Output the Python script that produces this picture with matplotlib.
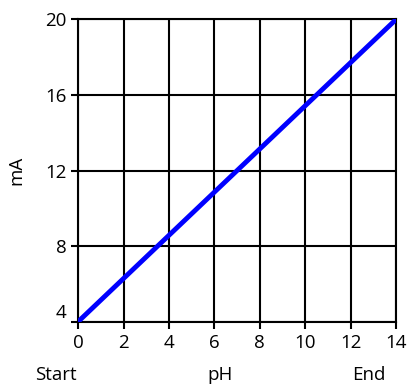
import matplotlib.pyplot as plt
import matplotlib.transforms as mtransforms

plt.rcParams['font.family'] = ['Open Sans', 'DejaVu Sans']

ph = [0, 14]
ma = [4, 20]
x_ticks = [0, 2, 4, 6, 8, 10, 12, 14]
y_ticks = [4, 8, 12, 16, 20]

fig = plt.figure(figsize=(4.11, 3.89), dpi=100)
ax = fig.add_axes([0.19, 0.173, 0.7735, 0.777])

ax.plot(ph, ma, color='#0000ff', linewidth=3.5, solid_capstyle='round', zorder=3)

ax.set_xlim(0, 14)
ax.set_ylim(4, 20)
ax.set_xticks(x_ticks)
ax.set_yticks(y_ticks)
ax.grid(True, color='black', linewidth=1.5)
for s in ax.spines.values():
    s.set_linewidth(1.5)
fs = 13.5
ax.tick_params(axis='both', length=5, width=1.5, labelsize=fs, pad=3.5)

# lift the bottom y label a little so it clears the x tick labels
lbl = ax.get_yticklabels()[0]
lbl.set_transform(lbl.get_transform() + mtransforms.ScaledTranslation(0, 8 / 72, fig.dpi_scale_trans))

ax.text(-0.195, 0.5, 'mA', transform=ax.transAxes, rotation=90,
        ha='center', va='center', fontsize=fs)
ax.text(-0.069, -0.175, 'Start', transform=ax.transAxes, ha='center', va='center', fontsize=fs)
ax.text(0.447, -0.175, 'pH', transform=ax.transAxes, ha='center', va='center', fontsize=fs)
ax.text(0.915, -0.175, 'End', transform=ax.transAxes, ha='center', va='center', fontsize=fs)

fig.savefig('out.png', dpi=100)
